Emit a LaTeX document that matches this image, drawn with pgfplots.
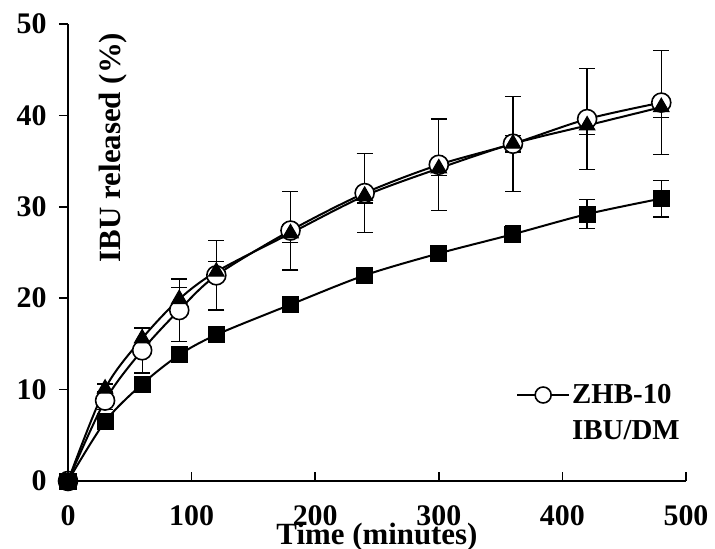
\documentclass[border=0pt]{standalone}
\usepackage{pgfplots}
\pgfplotsset{compat=1.18}
\usepackage{pgfplotstable}
\usepackage{fontspec}
\setmainfont{Liberation Serif}

% ZHB-10 (open circles)
\pgfplotstableread{
x y e
0 0 0
30 8.8 1.0
60 14.3 2.5
90 18.7 3.4
120 22.5 3.8
180 27.4 4.3
240 31.5 4.3
300 34.6 5.0
360 36.9 5.2
420 39.6 5.5
480 41.4 5.7
}\zhb
% triangles
\pgfplotstableread{
x y e
0 0 0
30 10.1 0.5
60 15.6 1.1
90 19.9 1.3
120 22.9 1.1
180 27.1 1.0
240 31.2 0.8
300 34.2 0.8
360 36.9 0.9
420 38.9 1.0
480 40.9 1.1
}\tri
% squares
\pgfplotstableread{
x y e
0 0 0
30 6.5 0.4
60 10.6 0.5
90 13.8 0.5
120 16.0 0.5
180 19.3 0.5
240 22.5 0.5
300 24.9 0.6
360 27.0 0.9
420 29.2 1.6
480 30.9 2.0
}\sqr

\begin{document}
\begin{tikzpicture}
\path[use as bounding box] (-68bp,-68bp) rectangle (647bp,481bp);
\begin{axis}[
    scale only axis, width=618bp, height=457bp,
    xmin=0, xmax=500, ymin=0, ymax=50,
    xtick={0,100,...,500}, ytick={0,10,...,50},
    axis lines=left, axis line style={line width=2bp,-},
    clip=false,
    font=\fontsize{30}{34}\selectfont\bfseries,
    /pgf/number format/assume math mode=true,
    tick align=outside, major tick length=9bp,
    tick style={line width=1.6bp,black},
    x tick style={yshift=9bp},
    xticklabel style={yshift=-12bp},
    yticklabel style={xshift=-9bp},
    xlabel={Time (minutes)}, ylabel={IBU released (\%)},
    xlabel style={font=\fontsize{31}{34}\selectfont\bfseries,
        at={(axis description cs:0.5,0)}, anchor=center, yshift=-56bp},
    ylabel style={font=\fontsize{31}{34}\selectfont\bfseries,
        at={(axis description cs:0.073,0.73)}, anchor=center},
    legend style={at={(axis description cs:0.72,0.22)}, anchor=north west,
        draw=none, fill=none, font=\fontsize{29}{32}\selectfont\bfseries,
        row sep=11bp},
    legend cell align=left,
    legend image code/.code={\draw[#1, mark size=8bp, mark repeat=2, mark phase=2]
        plot coordinates {(0bp,0bp) (26bp,0bp) (52bp,0bp)};},
    error bars/error bar style={line width=1.3bp, black},
    error bars/error mark options={rotate=90, mark size=8bp, line width=1.3bp, black},
]
\addplot[black, line width=2bp, smooth, mark=*, mark size=9.5bp,
    mark options={draw=black, fill=white, line width=1.6bp},
    error bars/.cd, y dir=both, y explicit]
    table[x=x, y=y, y error=e] {\zhb};
\addlegendentry{ZHB-10}
\addplot[black, line width=2bp, smooth, forget plot, mark=triangle*, mark size=9bp,
    mark options={draw=black, fill=black, line width=1bp},
    error bars/.cd, y dir=both, y explicit]
    table[x=x, y=y, y error=e] {\tri};
\addplot[black, line width=2bp, smooth, forget plot, mark=square*, mark size=8bp,
    mark options={draw=black, fill=black, line width=1bp},
    error bars/.cd, y dir=both, y explicit]
    table[x=x, y=y, y error=e] {\sqr};
\addlegendimage{empty legend}
\addlegendentry{IBU/DM}
\end{axis}
\end{tikzpicture}
\end{document}
